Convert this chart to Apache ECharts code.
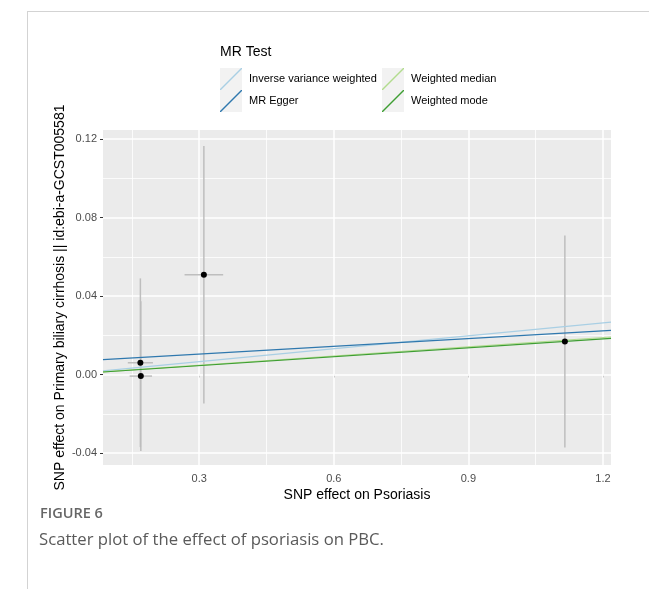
<!DOCTYPE html>
<html>
<head>
<meta charset="utf-8">
<script src="https://cdn.jsdelivr.net/npm/echarts@6/dist/echarts.min.js"></script>
<style>
html,body{margin:0;padding:0;background:#fff;}
#chart{width:649px;height:589px;}
</style>
</head>
<body>
<div id="chart"></div>
<script>
// ---- data ----
const snpX = [0.169, 0.170, 0.3105, 1.115];   // SNP effect on Psoriasis
const snpY = [0.006, -0.0008, 0.0508, 0.0168]; // SNP effect on PBC
const seX = [0.028, 0.025, 0.043, 0.006];
const seY = [0.043, 0.0382, 0.0656, 0.054];

const methods = ['Inverse variance weighted', 'MR Egger', 'Weighted median', 'Weighted mode'];
const intercepts = [0, 0.0065, 0, 0];
const slopes = [0.0219, 0.0131, 0.0157, 0.0151];
const methodColors = ['#A9CFE4', '#2F78AE', '#B2DC8E', '#3E9E33'];

const xTicks = [0.3, 0.6, 0.9, 1.2];
const xMinor = [0.15, 0.45, 0.75, 1.05];
const yTicks = [-0.04, 0.00, 0.04, 0.08, 0.12];
const yMinor = [-0.02, 0.02, 0.06, 0.10];

const xMin = 0.0857, xMax = 1.2178;
const yMin = -0.0461, yMax = 0.1246;

// ---- chart ----
const chart = echarts.init(document.getElementById('chart'), null, {renderer: 'canvas'});
const FONT = '"Liberation Sans", Arial, sans-serif';

const gridData = [];
xTicks.forEach(v => gridData.push({xAxis: v, lineStyle: {width: 1.5}}));
xMinor.forEach(v => gridData.push({xAxis: v, lineStyle: {width: 0.8}}));
yTicks.forEach(v => gridData.push({yAxis: v, lineStyle: {width: 1.5}}));
yMinor.forEach(v => gridData.push({yAxis: v, lineStyle: {width: 0.8}}));

const pts = snpX.map((x, i) => [x, snpY[i], seX[i], seY[i]]);

const lineSeries = methods.map((m, i) => ({
  name: m,
  type: 'line',
  data: [[xMin, intercepts[i] + slopes[i] * xMin], [xMax, intercepts[i] + slopes[i] * xMax]],
  symbol: 'none',
  lineStyle: {color: methodColors[i], width: 1.2},
  itemStyle: {color: methodColors[i]},
  z: 4,
  silent: true,
  animation: false
}));

const legendIcon = 'path://M0,22 L0,21 L21,0 L22,0 L22,1 L1,22 Z';

chart.setOption({
  animation: false,
  backgroundColor: '#ffffff',
  grid: {left: 103, right: 38, top: 130, bottom: 124, show: true, backgroundColor: '#EBEBEB', borderWidth: 0},
  xAxis: {
    type: 'value', min: xMin, max: xMax,
    name: 'SNP effect on Psoriasis', nameLocation: 'middle', nameGap: 23, nameMoveOverlap: false,
    nameTextStyle: {color: '#000', fontSize: 14, fontFamily: FONT},
    axisLine: {show: false},
    axisTick: {show: true, length: 3, lineStyle: {color: '#333333', width: 1}, customValues: xTicks},
    axisLabel: {color: '#4D4D4D', fontSize: 11, fontFamily: FONT, margin: 8, customValues: xTicks,
      formatter: v => v.toFixed(1)},
    splitLine: {show: false}, minorSplitLine: {show: false}
  },
  yAxis: {
    type: 'value', min: yMin, max: yMax,
    name: 'SNP effect on Primary biliary cirrhosis || id:ebi-a-GCST005581', nameLocation: 'middle', nameGap: 36,
    nameMoveOverlap: false,
    nameTextStyle: {color: '#000', fontSize: 14, fontFamily: FONT},
    axisLine: {show: false},
    axisTick: {show: true, length: 3, lineStyle: {color: '#333333', width: 1}, customValues: yTicks},
    axisLabel: {color: '#4D4D4D', fontSize: 11, fontFamily: FONT, margin: 6, customValues: yTicks,
      formatter: v => v.toFixed(2)},
    splitLine: {show: false}
  },
  legend: [
    {data: [methods[0], methods[1]], orient: 'vertical', left: 220, top: 68, itemWidth: 22, itemHeight: 22, itemGap: 0,
     icon: legendIcon, textStyle: {color: '#000', fontSize: 11, fontFamily: FONT, padding: [0,0,0,2]}, padding: 0, selectedMode: false},
    {data: [methods[2], methods[3]], orient: 'vertical', left: 382, top: 68, itemWidth: 22, itemHeight: 22, itemGap: 0,
     icon: legendIcon, textStyle: {color: '#000', fontSize: 11, fontFamily: FONT, padding: [0,0,0,2]}, padding: 0, selectedMode: false}
  ],
  graphic: [
    {type: 'line', shape: {x1: 27, y1: 11.5, x2: 649, y2: 11.5}, style: {stroke: '#d3d3d3', lineWidth: 1}, silent: true},
    {type: 'line', shape: {x1: 27.5, y1: 11, x2: 27.5, y2: 589}, style: {stroke: '#d3d3d3', lineWidth: 1}, silent: true},
    {type: 'rect', shape: {x: 220, y: 68, width: 22, height: 22}, style: {fill: '#F2F2F2'}, z: -1, silent: true},
    {type: 'rect', shape: {x: 220, y: 90, width: 22, height: 22}, style: {fill: '#F2F2F2'}, z: -1, silent: true},
    {type: 'rect', shape: {x: 382, y: 68, width: 22, height: 22}, style: {fill: '#F2F2F2'}, z: -1, silent: true},
    {type: 'rect', shape: {x: 382, y: 90, width: 22, height: 22}, style: {fill: '#F2F2F2'}, z: -1, silent: true},
    {type: 'text', left: 220, top: 45, style: {text: 'MR Test', fill: '#000', font: '14px ' + FONT}, silent: true},
    {type: 'text', left: 40, top: 506, style: {text: 'FIGURE 6', fill: '#666666', font: '600 14.5px "Open Sans", sans-serif'}, silent: true},
    {type: 'text', left: 39, top: 532, style: {text: 'Scatter plot of the effect of psoriasis on PBC.', fill: '#5a5a5a', font: '16.7px "Open Sans", sans-serif'}, silent: true}
  ],
  series: [
    {
      name: 'grid', type: 'scatter', data: pts.map(p => [p[0], p[1]]), symbolSize: 0, silent: true, z: 1,
      markLine: {silent: true, symbol: 'none', label: {show: false}, animation: false, z: 1,
        lineStyle: {color: '#ffffff', type: 'solid', opacity: 1}, emphasis: {disabled: true}, data: gridData}
    },
    {
      name: 'errorbars', type: 'custom', data: pts, z: 3, silent: true,
      renderItem: function (params, api) {
        const x = api.value(0), y = api.value(1), sx = api.value(2), sy = api.value(3);
        const a = api.coord([x, y - sy]), b = api.coord([x, y + sy]);
        const c = api.coord([x - sx, y]), d = api.coord([x + sx, y]);
        const st = {stroke: '#BEBEBE', lineWidth: 1.5};
        return {type: 'group', children: [
          {type: 'line', shape: {x1: a[0], y1: a[1], x2: b[0], y2: b[1]}, style: st},
          {type: 'line', shape: {x1: c[0], y1: c[1], x2: d[0], y2: d[1]}, style: st}
        ]};
      }
    },
    ...lineSeries,
    {
      name: 'points', type: 'scatter', data: pts.map(p => [p[0], p[1]]), symbolSize: 6,
      itemStyle: {color: '#000000', opacity: 1}, z: 6, silent: true
    }
  ]
});
</script>
</body>
</html>
